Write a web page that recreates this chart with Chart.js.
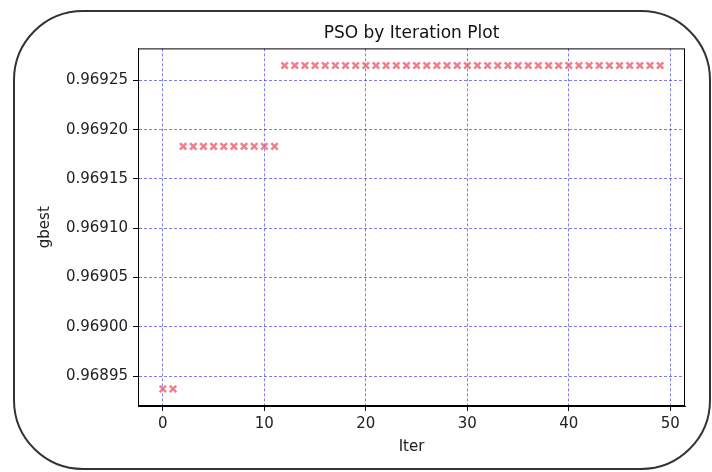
<!DOCTYPE html>
<html>
<head>
<meta charset="utf-8">
<script src="https://cdn.jsdelivr.net/npm/chart.js@4.4.0/dist/chart.umd.min.js"></script>
<style>
  html, body { margin: 0; padding: 0; background: #fff; }
  .wrap { position: relative; width: 712px; height: 472px; }
  .frame {
    position: absolute; left: 13px; top: 10px; width: 694px; height: 456px;
    border: 2px solid #333; border-radius: 70px; pointer-events: none;
  }
</style>
</head>
<body>
<div class="wrap">
  <canvas id="pso" width="712" height="472"></canvas>
  <div class="frame"></div>
</div>
<script>
  // iteration numbers and best fitness found so far
  const iters = [0, 1, 2, 3, 4, 5, 6, 7, 8, 9, 10, 11, 12, 13, 14, 15, 16, 17, 18, 19,
    20, 21, 22, 23, 24, 25, 26, 27, 28, 29, 30, 31, 32, 33, 34, 35, 36, 37, 38, 39,
    40, 41, 42, 43, 44, 45, 46, 47, 48, 49];
  const gbest = [0.968937, 0.968937,
    0.969183, 0.969183, 0.969183, 0.969183, 0.969183, 0.969183, 0.969183, 0.969183, 0.969183, 0.969183,
    0.969265, 0.969265, 0.969265, 0.969265, 0.969265, 0.969265, 0.969265, 0.969265, 0.969265, 0.969265,
    0.969265, 0.969265, 0.969265, 0.969265, 0.969265, 0.969265, 0.969265, 0.969265, 0.969265, 0.969265,
    0.969265, 0.969265, 0.969265, 0.969265, 0.969265, 0.969265, 0.969265, 0.969265, 0.969265, 0.969265,
    0.969265, 0.969265, 0.969265, 0.969265, 0.969265, 0.969265, 0.969265, 0.969265];
  const xTicks = [0, 10, 20, 30, 40, 50];
  const yTicks = [0.96895, 0.96900, 0.96905, 0.96910, 0.96915, 0.96920, 0.96925];

  const points = iters.map((x, i) => ({ x: x, y: gbest[i] }));

  // box around the plot area, drawn solid over the dashed grid
  const boxPlugin = {
    id: "box",
    afterDraw(chart) {
      const a = chart.chartArea, ctx = chart.ctx;
      ctx.save();
      ctx.setLineDash([]);
      ctx.strokeStyle = "#000";
      ctx.lineWidth = 1;
      ctx.strokeRect(a.left + 0.5, a.top + 0.5, a.right - a.left - 1, a.bottom - a.top - 1);
      ctx.restore();
    },
  };

  const gridStyle = {
    color: "rgba(40,40,230,0.75)",
    lineWidth: 0.8,
    tickLength: 5,
    tickColor: "#000",
    tickBorderDash: [],
    tickWidth: 1,
  };
  const borderStyle = { color: "#000", width: 1, dash: [3, 2] };

  new Chart(document.getElementById("pso"), {
    type: "scatter",
    data: {
      datasets: [
        {
          data: points,
          pointStyle: "crossRot",
          pointRadius: 4.5,
          pointHoverRadius: 4.5,
          borderWidth: 2.5,
          borderColor: "rgba(238,95,110,0.8)",
          backgroundColor: "rgba(238,95,110,0.8)",
        },
      ],
    },
    plugins: [boxPlugin],
    options: {
      responsive: false,
      animation: false,
      layout: { padding: { left: 30, right: 27, top: 14, bottom: 14 } },
      plugins: {
        legend: { display: false },
        tooltip: { enabled: false },
        title: {
          display: true,
          fullSize: false,
          text: "PSO by Iteration Plot",
          color: "#111",
          font: { family: "DejaVu Sans", size: 17, weight: "normal" },
          padding: { top: 9, bottom: 5 },
        },
      },
      scales: {
        x: {
          type: "linear",
          min: -2.45,
          max: 51.45,
          afterBuildTicks: (s) => { s.ticks = xTicks.map((v) => ({ value: v })); },
          afterFit: (s) => { s.height = 52; },
          grid: gridStyle,
          border: borderStyle,
          ticks: {
            color: "#222",
            padding: 4,
            font: { family: "DejaVu Sans", size: 15 },
          },
          title: {
            display: true,
            text: "Iter",
            color: "#222",
            font: { family: "DejaVu Sans", size: 15 },
            padding: { top: 0, bottom: 2 },
          },
        },
        y: {
          type: "linear",
          min: 0.9689196,
          max: 0.9692824,
          afterBuildTicks: (s) => { s.ticks = yTicks.map((v) => ({ value: v })); },
          afterFit: (s) => { s.width = 108; },
          grid: gridStyle,
          border: borderStyle,
          ticks: {
            color: "#222",
            padding: 5,
            font: { family: "DejaVu Sans", size: 15 },
            callback: (v) => Number(v).toFixed(5),
          },
          title: {
            display: true,
            text: "gbest",
            color: "#222",
            font: { family: "DejaVu Sans", size: 15 },
            padding: { top: 6, bottom: 0 },
          },
        },
      },
    },
  });
</script>
</body>
</html>
